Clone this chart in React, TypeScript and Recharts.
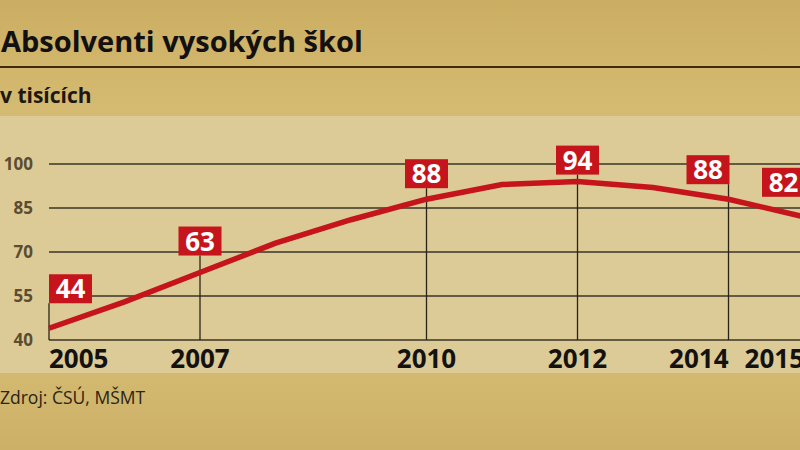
import React from 'react';
import { LineChart, Line, XAxis, YAxis, CartesianGrid, ReferenceLine } from 'recharts';

const years = [2005, 2006, 2007, 2008, 2009, 2010, 2011, 2012, 2013, 2014, 2015];
const graduates = [44, 53, 63, 73, 81, 88, 93, 94, 92, 88, 82];
const labeledYears = [2005, 2007, 2010, 2012, 2014, 2015];
const yTicks = [40, 55, 70, 85, 100];

// box alignment + how far the box floats above the point (px)
const labelStyle: Record<number, { anchor: 'start' | 'middle' | 'end'; lift: number }> = {
  2005: { anchor: 'start', lift: 25 },
  2007: { anchor: 'middle', lift: 17 },
  2010: { anchor: 'middle', lift: 11 },
  2012: { anchor: 'middle', lift: 7 },
  2014: { anchor: 'end', lift: 15 },
  2015: { anchor: 'end', lift: 20 },
};

const tickAnchor: Record<number, 'start' | 'middle' | 'end'> = {
  2005: 'start',
  2007: 'middle',
  2010: 'middle',
  2012: 'middle',
  2014: 'end',
  2015: 'end',
};

const data = years.map((year, i) => ({ year, value: graduates[i] }));

const FONT = '"Open Sans", "DejaVu Sans", sans-serif';
const RED = '#c5141b';
const BOX_W = 43;
const BOX_H = 29;

const Marker = (props: any) => {
  const { x1, y1, y2, year, value } = props;
  const st = labelStyle[year];
  const boxBottom = y2 - st.lift;
  const boxX = st.anchor === 'start' ? x1 : st.anchor === 'end' ? x1 - BOX_W + 1 : x1 - BOX_W / 2;
  return (
    <g>
      <line x1={x1} x2={x1} y1={y1} y2={boxBottom} stroke="#2a2418" strokeWidth={1.3} />
      <rect x={boxX} y={boxBottom - BOX_H} width={BOX_W} height={BOX_H} fill={RED} />
      <text
        x={boxX + BOX_W / 2}
        y={boxBottom - 5}
        textAnchor="middle"
        fill="#ffffff"
        fontFamily={FONT}
        fontWeight={700}
        fontSize={26}
      >
        {value}
      </text>
    </g>
  );
};

const YTick = (props: any) => {
  const { x, y, payload } = props;
  return (
    <text x={x} y={y} dy={6} textAnchor="end" fill="#5c4c30" fontFamily={FONT} fontWeight={700} fontSize={17}>
      {payload.value}
    </text>
  );
};

const XTick = (props: any) => {
  const { x, y, payload } = props;
  return (
    <text
      x={x}
      y={y}
      dy={28}
      textAnchor={tickAnchor[payload.value]}
      fill="#141210"
      fontFamily={FONT}
      fontWeight={700}
      fontSize={26}
    >
      {payload.value}
    </text>
  );
};

export default function App() {
  return (
    <div
      style={{
        position: 'fixed',
        top: 0,
        left: 0,
        width: 800,
        height: 450,
        overflow: 'hidden',
        background: 'linear-gradient(180deg, #cfb368 0%, #d5bb73 100%)',
        fontFamily: FONT,
      }}
    >
      <div style={{ position: 'absolute', left: 0, top: 0, width: 800, height: 116, background: 'linear-gradient(180deg, #cbae62 0%, #d5bb72 100%)' }} />
      <div style={{ position: 'absolute', left: 0, top: 116, width: 800, height: 257, background: '#dccb96' }} />
      <div style={{ position: 'absolute', left: 0, top: 373, width: 800, height: 77, background: 'linear-gradient(180deg, #d3b970 0%, #cdb067 100%)' }} />
      <div style={{ position: 'absolute', left: 0, top: 66, width: 800, height: 2, background: '#3b2c12' }} />
      <div style={{ position: 'absolute', left: 1, top: 20, fontSize: 29, fontWeight: 700, color: '#121010', lineHeight: '42px' }}>
        Absolventi vysokých škol
      </div>
      <div style={{ position: 'absolute', left: 0, top: 80, fontSize: 21, fontWeight: 700, color: '#1c1812', lineHeight: '30px' }}>
        v tisících
      </div>
      <div style={{ position: 'absolute', left: 0, top: 384, fontSize: 17.5, color: '#2a2416', lineHeight: '26px' }}>
        Zdroj: ČSÚ, MŠMT
      </div>
      <div style={{ position: 'absolute', left: 0, top: 0 }}>
        <LineChart width={810} height={450} data={data} margin={{ top: 164, right: 6, bottom: 70, left: 0 }}>
          <CartesianGrid vertical={false} stroke="#3a3424" strokeWidth={1.3} />
          <XAxis
            dataKey="year"
            type="number"
            domain={[2005, 2015]}
            ticks={labeledYears}
            interval={0}
            axisLine={false}
            tickLine={false}
            tickSize={0}
            tickMargin={0}
            height={40}
            tick={<XTick />}
          />
          <YAxis
            domain={[40, 100]}
            ticks={yTicks}
            axisLine={false}
            tickLine={false}
            tickSize={0}
            tickMargin={16}
            width={49}
            tick={<YTick />}
          />
          {labeledYears.map((year) => {
            const value = graduates[years.indexOf(year)];
            return (
              <ReferenceLine
                key={year}
                segment={[{ x: year, y: 40 }, { x: year, y: value }]}
                ifOverflow="visible"
                shape={(p: any) => <Marker {...p} year={year} value={value} />}
              />
            );
          })}
          <Line
            type="linear"
            dataKey="value"
            stroke={RED}
            strokeWidth={5.5}
            dot={false}
            activeDot={false}
            isAnimationActive={false}
          />
        </LineChart>
      </div>
    </div>
  );
}
